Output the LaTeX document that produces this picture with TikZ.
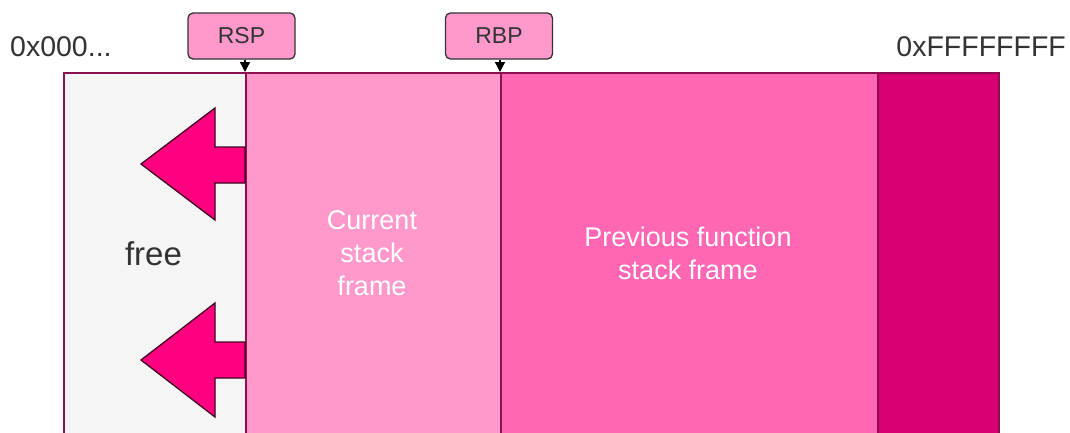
\documentclass[tikz,border=0pt]{standalone}
\usepackage{fontspec}
\setmainfont{Liberation Sans}
\usetikzlibrary{arrows.meta}
\definecolor{freebg}{HTML}{F5F5F5}
\definecolor{curbg}{HTML}{FF99CC}
\definecolor{prevbg}{HTML}{FF66B3}
\definecolor{darkbg}{HTML}{D80073}
\definecolor{border}{HTML}{8C1050}
\definecolor{arrowfill}{HTML}{FF0080}
\definecolor{txt}{HTML}{333333}
\tikzset{
  seg/.style={draw=border, line width=1.8pt, inner sep=0pt, anchor=north west},
  ptr/.style={draw=txt, line width=1.3pt, fill=curbg, rounded corners=5pt, inner sep=0pt,
    minimum width=107pt, minimum height=46pt, font=\fontsize{23}{27}\selectfont, text=txt},
  addr/.style={font=\fontsize{28.5}{34}\selectfont, text=txt, inner sep=0pt},
  lbl/.style={font=\fontsize{27}{33}\selectfont, text=white, align=center, inner sep=0pt},
  pointer/.style={-{Triangle[length=10pt,width=10pt]}, line width=1.3pt, black},
  growarrow/.style={fill=arrowfill, draw=black!75!arrowfill, line width=1.3pt, line join=miter}
}
\begin{document}
\begin{tikzpicture}[x=1pt,y=-1pt]
\useasboundingbox (0,0) rectangle (1070,432);
\clip (0,0) rectangle (1070,432);
\fill[white] (0,0) rectangle (1070,432);
% segments
\node[seg, fill=freebg, minimum width=182pt, minimum height=380pt] (free) at (63,72) {};
\node[seg, fill=curbg, minimum width=255pt, minimum height=380pt] (cur) at (245,72) {};
\node[seg, fill=prevbg, minimum width=377pt, minimum height=380pt] (prev) at (500,72) {};
\node[seg, fill=darkbg, minimum width=121pt, minimum height=380pt] (dark) at (877,72) {};
% growth arrows
\draw[growarrow] (141,164) -- (215,108) -- (215,147) -- (245,147) -- (245,183) -- (215,183) -- (215,220) -- cycle;
\draw[growarrow] (141,360) -- (215,303) -- (215,342) -- (245,342) -- (245,378) -- (215,378) -- (215,417) -- cycle;
% texts
\node[font=\fontsize{33}{40}\selectfont, text=txt, inner sep=0pt] (freetxt) at (153.5,254) {free};
\node[lbl] (curtxt) at (372,253) {Current\\stack\\frame};
\node[lbl] (prevtxt) at (688,253) {Previous function\\stack frame};
\node[addr, anchor=west] (lo) at (10,47) {0x000...};
\node[addr, anchor=east] (hi) at (1066,47) {0xFFFFFFFF};
% pointers
\node[ptr] (rsp) at (241.5,36) {RSP};
\node[ptr] (rbp) at (499,36) {RBP};
\draw[pointer] (rsp.south -| cur.north west) -- (cur.north west);
\draw[pointer] (rbp.south -| prev.north west) -- (prev.north west);
\end{tikzpicture}
\end{document}
